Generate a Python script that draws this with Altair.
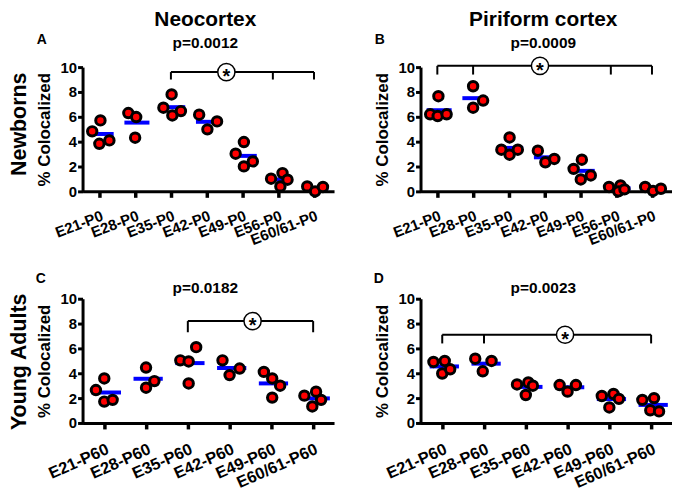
import json
import altair as alt
import pandas as pd

FONT = "Liberation Sans"

top_cats = ["E21-P0", "E28-P0", "E35-P0", "E42-P0", "E49-P0", "E56-P0", "E60/61-P0"]
bot_cats = ["E21-P60", "E28-P60", "E35-P60", "E42-P60", "E49-P60", "E60/61-P60"]

# Panel A: Neocortex, newborns
A_vals = [[4.83, 5.71, 3.83, 4.10], [6.30, 5.98, 4.32], [6.73, 7.80, 6.11, 6.46],
          [6.17, 4.99, 5.63], [3.03, 3.97, 2.01, 2.41], [1.02, 1.47, 0.40, 0.94],
          [0.40, 0.0, 0.35]]
A_jit = [[-0.2, 0.03, 0.0, 0.28], [-0.19, 0.03, 0.0], [-0.21, 0.02, 0.04, 0.28],
         [-0.21, 0.02, 0.29], [-0.19, 0.04, 0.04, 0.29], [-0.2, 0.12, 0.06, 0.26],
         [-0.19, 0.03, 0.25]]
# Panel B: Piriform cortex, newborns
B_vals = [[6.2, 7.66, 6.06, 6.2], [8.46, 6.73, 7.31], [3.35, 4.34, 2.95, 3.35],
          [3.27, 2.34, 2.61], [1.81, 2.55, 0.96, 1.28], [0.35, 0.48, 0.0, 0.16],
          [0.35, 0.03, 0.21]]
B_jit = [[-0.2, 0.03, 0.01, 0.26], [0.0, 0.0, 0.28], [-0.21, 0.02, 0.02, 0.25],
         [-0.19, 0.02, 0.27], [-0.19, 0.04, 0.01, 0.29], [-0.2, 0.12, 0.06, 0.23],
         [-0.19, 0.03, 0.25]]
# Panel C: Neocortex, young adults
C_vals = [[2.65, 3.58, 1.72, 1.86], [4.46, 2.84, 3.37], [5.04, 4.95, 3.18, 6.1],
          [5.04, 3.85, 4.38], [4.11, 3.58, 2.04, 3.0], [2.2, 2.52, 1.33, 1.86]]
C_jit = [[-0.2, 0.0, 0.0, 0.2], [0.0, 0.0, 0.2], [-0.18, 0.02, 0.02, 0.2],
         [-0.17, 0.0, 0.24], [-0.18, 0.02, 0.02, 0.21], [-0.21, 0.07, -0.02, 0.19]]
# Panel D: Piriform cortex, young adults
D_vals = [[4.91, 4.99, 3.98, 4.32], [5.17, 4.16, 4.99], [3.1, 3.26, 2.25, 3.0],
          [3.05, 2.52, 3.05], [2.17, 2.33, 1.25, 1.94], [1.86, 2.0, 1.02, 0.93]]
D_jit = [[-0.21, 0.06, 0.0, 0.19], [-0.21, -0.03, 0.18], [-0.21, 0.06, 0.0, 0.17],
         [-0.19, 0.0, 0.2], [-0.18, 0.1, 0.0, 0.23], [-0.21, 0.07, -0.02, 0.19]]

# significance brackets: level, start, end, drop positions, drop bottom, star position
A_br = dict(y=9.6, x0=2, x1=6, drops=[2, 4.85, 6], ybot=9.0, star=3.55)
B_br = dict(y=10.1, x0=0, x1=6, drops=[0, 1, 4.85, 6], ybot=9.4, star=2.87)
C_br = dict(y=8.2, x0=2, x1=5, drops=[2, 5], ybot=7.3, star=3.55)
D_br = dict(y=7.1, x0=0, x1=5, drops=[0, 1, 5], ybot=6.4, star=2.94)

p_values = ["p=0.0012", "p=0.0009", "p=0.0182", "p=0.0023"]
col_titles = ["Neocortex", "Piriform cortex"]
row_titles = ["Newborns", "Young Adults"]
letters = ["A", "B", "C", "D"]

W, H = 253, 125


def label(txt, x, y, size, **kw):
    return alt.Chart(pd.DataFrame({"t": [txt]})).mark_text(
        font=FONT, fontSize=size, fontWeight="bold", color="black", **kw
    ).encode(x=alt.value(x), y=alt.value(y), text="t:N")


def panel(cats, vals, jit, br, ptxt, letter, coltitle=None, rowtitle=None):
    n = len(cats)
    top = coltitle is not None
    rows = []
    for i, (vs, js) in enumerate(zip(vals, jit)):
        for v, j in zip(vs, js):
            rows.append({"idx": i, "x": i + j, "v": v})
    pts = pd.DataFrame(rows)
    xdom = [-0.47, n - 1 + 0.56] if n == 7 else [-0.52, n - 1 + 0.5]
    xs = alt.Scale(domain=xdom, nice=False, zero=False)
    ys = alt.Scale(domain=[0, 10], nice=False)
    xaxis = alt.Axis(values=list(range(n)), labelExpr=json.dumps(cats).replace('"', "'") + "[datum.value]",
                     labelAngle=-21 if top else -24, labelAlign="right", labelBaseline="top", title=None,
                     labelFontSize=15 if top else 16.5, labelFontWeight="bold",
                     labelPadding=11 if top else 12,
                     tickSize=6, tickWidth=3.5, domainWidth=3, labelOverlap=False,
                     labelBound=False, labelFlush=False)
    yaxis = alt.Axis(values=[0, 2, 4, 6, 8, 10], title="% Colocalized", titleFontSize=17,
                     labelFontSize=15, labelFontWeight="bold", tickSize=5, tickWidth=3,
                     domainWidth=3, labelPadding=1, titlePadding=7, labelOverlap=False,
                     labelBound=False, labelFlush=False)

    def X(f):
        return alt.X(f, scale=xs, axis=xaxis)

    def Y(f):
        return alt.Y(f, scale=ys, axis=yaxis)

    means = alt.Chart(pts).transform_aggregate(
        m="mean(v)", groupby=["idx"]
    ).transform_calculate(lo="datum.idx - 0.3", hi="datum.idx + 0.4").mark_rule(
        color="#0000ff", strokeWidth=4
    ).encode(x=X("lo:Q"), x2="hi:Q", y=Y("m:Q"))

    dots = alt.Chart(pts).mark_circle(
        size=90, fill="#ff0000", stroke="black", strokeWidth=3, opacity=1
    ).encode(x=X("x:Q"), y=Y("v:Q"))

    hbar = alt.Chart(pd.DataFrame({"x0": [br["x0"]], "x1": [br["x1"]], "y": [br["y"]]})).mark_rule(
        color="black", strokeWidth=2
    ).encode(x=X("x0:Q"), x2="x1:Q", y=Y("y:Q"))

    nd = len(br["drops"])
    drops = alt.Chart(pd.DataFrame({"x": br["drops"], "y0": [br["y"]] * nd, "y1": [br["ybot"]] * nd})).mark_rule(
        color="black", strokeWidth=2
    ).encode(x=X("x:Q"), y=Y("y0:Q"), y2="y1:Q")

    sdf = pd.DataFrame({"x": [br["star"]], "y": [br["y"]], "t": ["*"]})
    ring = alt.Chart(sdf).mark_point(
        shape="circle", size=300, filled=True, fill="white", stroke="black", strokeWidth=1.5, opacity=1
    ).encode(x=X("x:Q"), y=Y("y:Q"))
    star = alt.Chart(sdf).mark_text(
        font=FONT, fontSize=20, fontWeight="bold", color="black", dy=5
    ).encode(x=X("x:Q"), y=Y("y:Q"), text="t:N")

    layers = [means, dots, hbar, drops, ring, star]
    if top:
        layers.append(label(coltitle, W / 2 - 3, -41, 21, baseline="alphabetic"))
        layers.append(label(ptxt, W / 2 - 3, -19, 15.5, baseline="alphabetic"))
        layers.append(label(letter, -41, -23, 14, baseline="alphabetic"))
    else:
        layers.append(label(ptxt, W / 2 - 3, -6, 15.5, baseline="alphabetic"))
        layers.append(label(letter, -42, -16, 14, baseline="alphabetic"))
    if rowtitle:
        layers.append(label(rowtitle, -63, H / 2 - (5 if top else -1), 21.5, angle=270, baseline="middle"))

    return alt.layer(*layers).properties(width=W, height=H)


pA = panel(top_cats, A_vals, A_jit, A_br, p_values[0], letters[0], col_titles[0], row_titles[0])
pB = panel(top_cats, B_vals, B_jit, B_br, p_values[1], letters[1], col_titles[1])
pC = panel(bot_cats, C_vals, C_jit, C_br, p_values[2], letters[2], None, row_titles[1])
pD = panel(bot_cats, D_vals, D_jit, D_br, p_values[3], letters[3])

chart = alt.vconcat(
    alt.hconcat(pA, pB, spacing=39),
    alt.hconcat(pC, pD, spacing=39),
    spacing=24,
).properties(padding=0).configure_view(
    stroke=None
).configure_axis(
    grid=False, domainColor="black", tickColor="black", labelColor="black", titleColor="black",
    labelFont=FONT, titleFont=FONT, titleFontWeight="bold", labelOverlap=False
)

chart.save("out.html", embed_options={"renderer": "svg", "actions": False})
